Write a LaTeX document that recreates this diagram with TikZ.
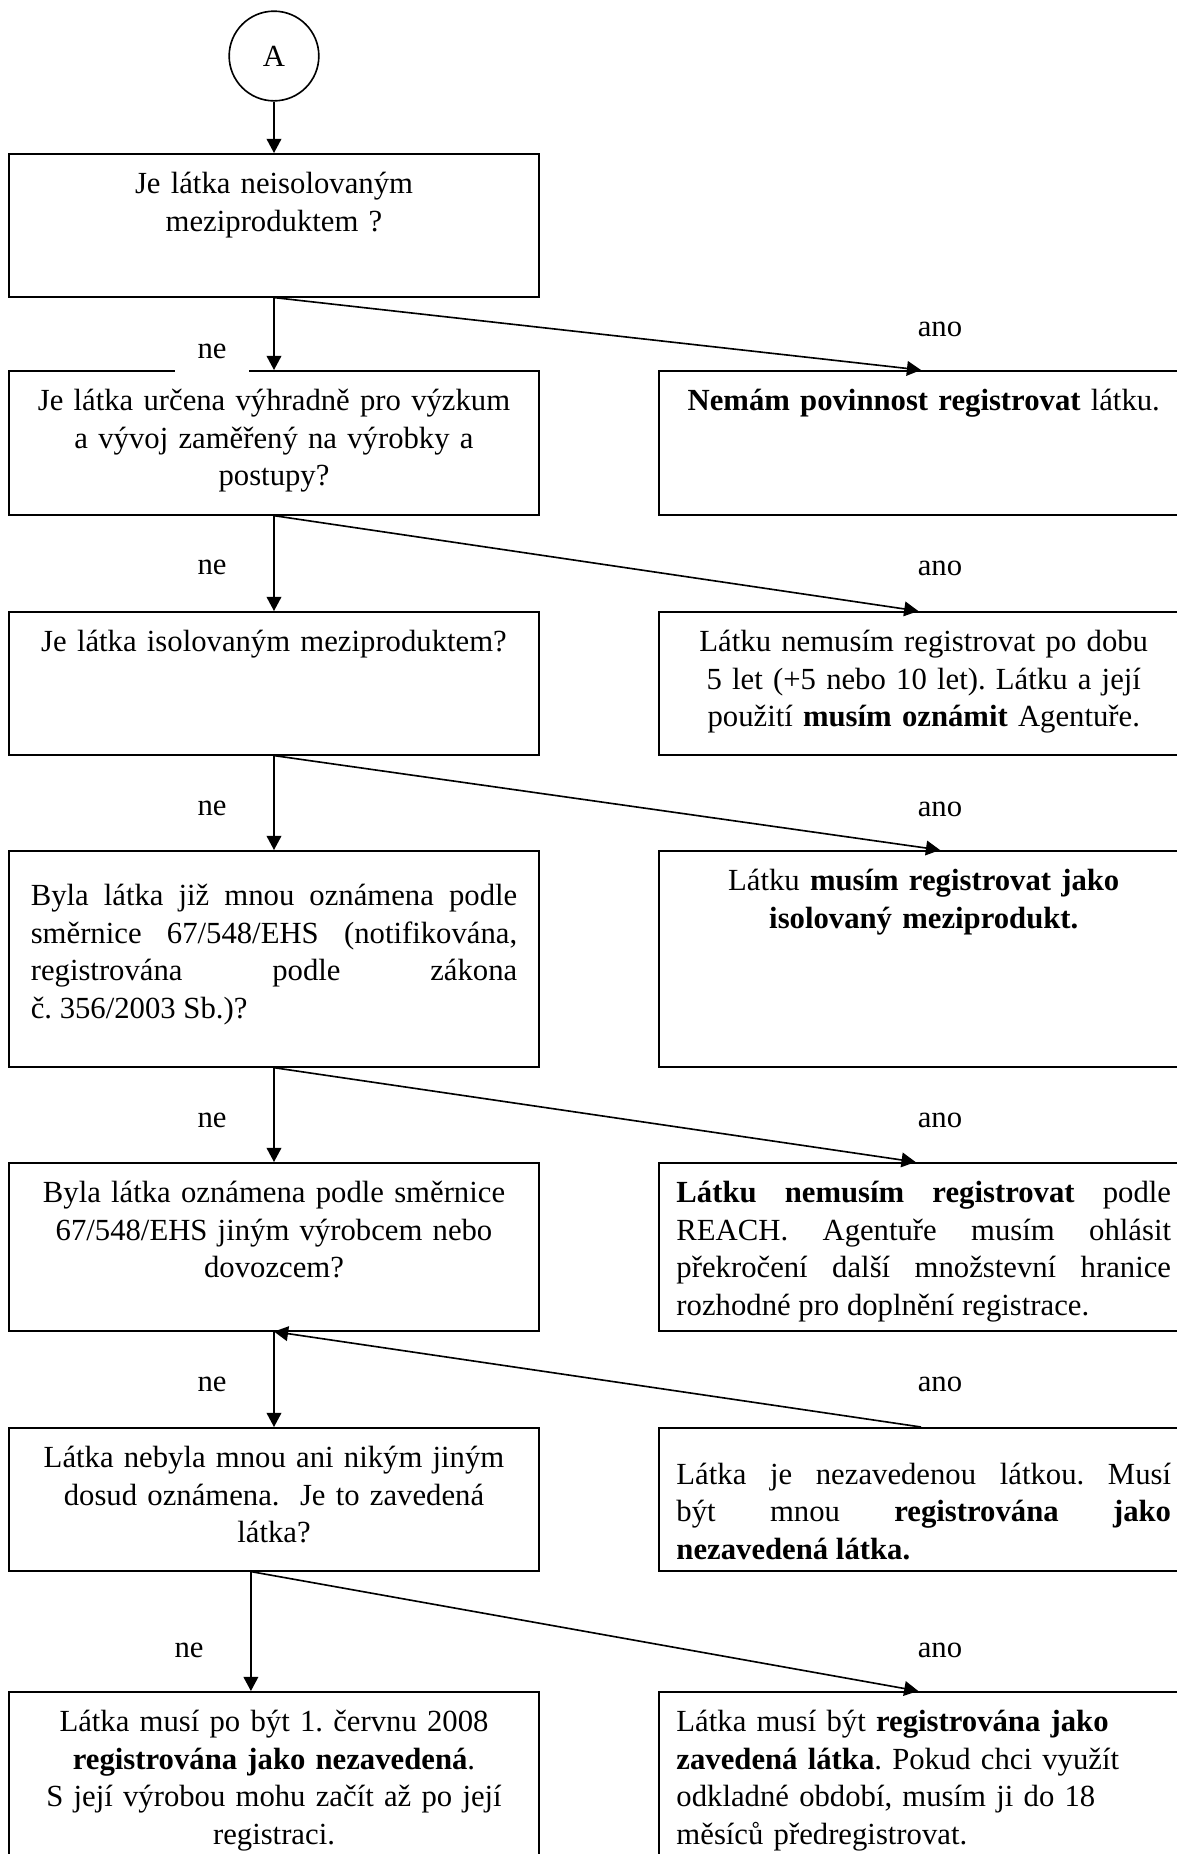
\documentclass[tikz,border=0pt]{standalone}
\usepackage{fontspec}
\setmainfont{Liberation Serif}
\usetikzlibrary{arrows.meta}
\hyphenpenalty=10000
\exhyphenpenalty=10000
\frenchspacing

\begin{document}
\begin{tikzpicture}[x=0.368pt,y=-0.368pt,
 qbox/.style={draw,line width=0.6pt,anchor=north,minimum width=195pt,text width=179pt,inner xsep=8pt,inner ysep=4.7pt,text height=10pt,align=center,font=\fontsize{11.3}{13.8}\selectfont},
 abox/.style={qbox,anchor=north west,text width=182pt,inner xsep=6.5pt},
 tag/.style={inner sep=0pt,font=\fontsize{11.3}{13.8}\selectfont},
 flow/.style={line width=0.6pt,-{Triangle[length=5.2pt,width=5.4pt]}}]
\useasboundingbox (0,0) rectangle (1177,1854);
\clip (0,0) rectangle (1177,1854);

\node[draw,circle,line width=0.6pt,minimum size=33pt,inner sep=0pt,font=\fontsize{11.3}{13.8}\selectfont] (start) at (274,56) {A};

\node[qbox,text depth=33.2pt] (q1) at (274,153) {Je látka neisolovaným\\meziproduktem ?};
\node[qbox,text depth=33.6pt] (q2) at (274,370) {Je látka určena výhradně pro výzkum\\a vývoj zaměřený na výrobky a\\postupy?};
\node[qbox,text depth=33.2pt] (q3) at (274,611) {Je látka isolovaným meziproduktem?};
\node[qbox,align=justify,text height=15.5pt,text depth=54.6pt] (q4) at (274,850) {Byla látka již mnou oznámena podle\linebreak směrnice 67/548/EHS (notifikována,\linebreak registrována podle zákona\linebreak č.~356/2003 Sb.)?};
\node[qbox,text depth=42.4pt] (q5) at (274,1162) {Byla látka oznámena podle směrnice\\67/548/EHS jiným výrobcem nebo\\dovozcem?};
\node[qbox,text depth=33.2pt] (q6) at (274,1427) {Látka nebyla mnou ani nikým jiným\\dosud oznámena.~ Je to zavedená\\látka?};
\node[qbox,text depth=54.2pt] (q7) at (274,1691) {Látka musí po být 1. červnu 2008\\\textbf{registrována jako nezavedená}.\\S její výrobou mohu začít až po její\\registraci.};

\node[abox,text depth=33.6pt] (a1) at (658,370) {\textbf{Nemám povinnost registrovat} látku.};
\node[abox,text depth=33.2pt] (a2) at (658,611) {Látku nemusím registrovat po dobu\\5 let (+5 nebo 10 let). Látku a její\\použití \textbf{musím oznámit} Agentuře.};
\node[abox,text depth=60.1pt] (a3) at (658,850) {Látku \textbf{musím registrovat jako}\\\textbf{isolovaný meziprodukt.}};
\node[abox,align=justify,text depth=42.4pt] (a4) at (658,1162) {\textbf{Látku nemusím registrovat} podle\linebreak REACH. Agentuře musím ohlásit\linebreak překročení další množstevní hranice\linebreak rozhodné pro doplnění registrace.};
\node[abox,align=justify,text height=16pt,text depth=27.2pt] (a5) at (658,1427) {Látka je nezavedenou látkou. Musí\linebreak být mnou \textbf{registrována jako}\linebreak \textbf{nezavedená látka.}};
\node[abox,align=left,text depth=54.2pt] (a6) at (658,1691) {Látka musí být \textbf{registrována jako}\\\textbf{zavedená látka}. Pokud chci využít\\odkladné období, musím ji do 18\\měsíců předregistrovat.};

\node[tag,fill=white,minimum width=26.9pt,minimum height=16pt] (n1) at (212,351) {ne};
\node[tag] (y1) at (940,329) {ano};
\node[tag] (n2) at (212,567) {ne};
\node[tag] (y2) at (940,568) {ano};
\node[tag] (n3) at (212,808) {ne};
\node[tag] (y3) at (940,809) {ano};
\node[tag] (n4) at (212,1120) {ne};
\node[tag] (y4) at (940,1120) {ano};
\node[tag] (n5) at (212,1384) {ne};
\node[tag] (y5) at (940,1384) {ano};
\node[tag] (n6) at (189,1650) {ne};
\node[tag] (y6) at (940,1650) {ano};

\draw[flow] (start.south) -- (q1.north);
\draw[flow] (q1.south) -- (q2.north);
\draw[flow] (q1.south) -- ([xshift=-1pt]a1.north);
\draw[flow] (q2.south) -- (q3.north);
\draw[flow] (q2.south) -- ([xshift=-2pt]a2.north);
\draw[flow] (q3.south) -- (q4.north);
\draw[flow] (q3.south) -- ([xshift=6pt]a3.north);
\draw[flow] (q4.south) -- (q5.north);
\draw[flow] (q4.south) -- ([xshift=-3pt]a4.north);
\draw[flow] (q5.south) -- (q6.north);
\draw[flow] ([xshift=-1pt]a5.north) -- (q5.south);
\draw[flow] ([xshift=-8.5pt]q6.south) -- ([xshift=-8.5pt]q7.north);
\draw[flow] ([xshift=-8.5pt]q6.south) -- ([xshift=-2pt]a6.north);
\end{tikzpicture}
\end{document}
